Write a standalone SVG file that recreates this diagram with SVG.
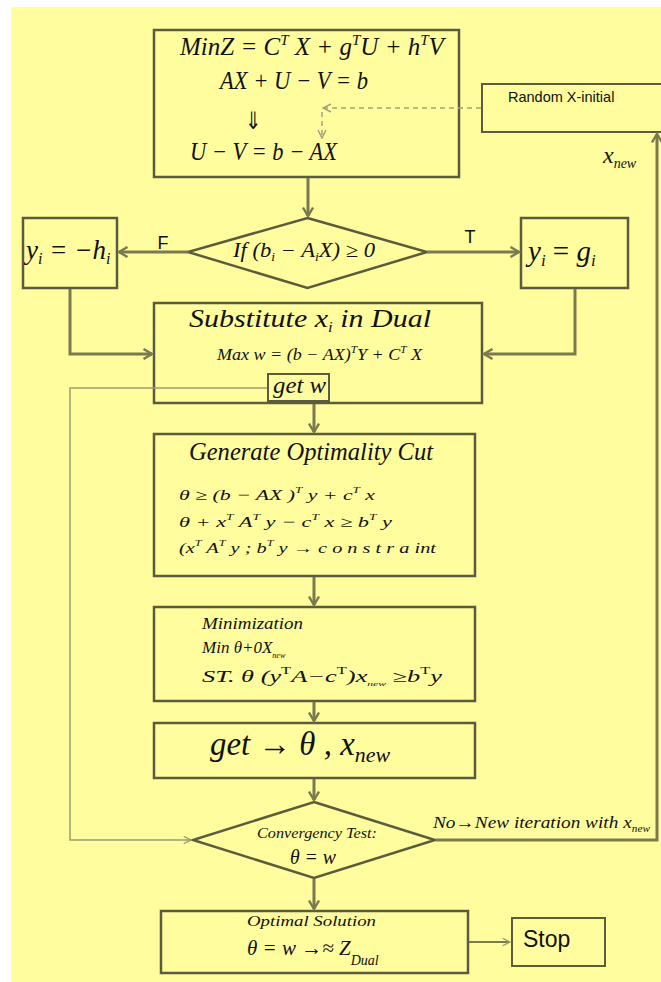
<svg xmlns="http://www.w3.org/2000/svg" width="661" height="982" viewBox="0 0 661 982">
<defs>
<style>
.box{fill:#fffd9e;stroke:#5b5b3d;stroke-width:2.5}
.con{fill:none;stroke:#7a7a50;stroke-width:3}
.thin{fill:none;stroke:#9c9c74;stroke-width:1.5}
.dash{fill:none;stroke:#a3a17e;stroke-width:1.5;stroke-dasharray:5,4}
.m{font-family:"Liberation Serif","Times New Roman",serif;font-style:italic;fill:#111}
.s{font-family:"Liberation Sans",Arial,sans-serif;fill:#111}
</style>
<marker id="ah" viewBox="0 0 12 12" refX="10" refY="6" markerWidth="12" markerHeight="12" markerUnits="userSpaceOnUse" orient="auto"><path d="M1.5,1 L10,6 L1.5,11" fill="none" stroke="#7a7a50" stroke-width="2.4"/></marker>
<marker id="ahs" viewBox="0 0 10 10" refX="9" refY="5" markerWidth="9" markerHeight="9" markerUnits="userSpaceOnUse" orient="auto"><path d="M1,1 L9,5 L1,9" fill="none" stroke="#9c9c74" stroke-width="1.5"/></marker>
<marker id="ahd" viewBox="0 0 10 10" refX="9" refY="5" markerWidth="10" markerHeight="10" markerUnits="userSpaceOnUse" orient="auto"><path d="M1,1 L9,5 L1,9" fill="none" stroke="#a3a17e" stroke-width="1.5"/></marker>
</defs>
<rect x="0" y="0" width="661" height="982" fill="#ffffff"/>
<rect x="11" y="7" width="650" height="975" fill="#fffd9e"/>

<g id="top-box">
<rect class="box" x="154" y="30" width="305" height="147"/>
<text class="m" x="180" y="55" font-size="25">MinZ = C<tspan font-size="15" dy="-10">T</tspan><tspan dy="10"> X + g</tspan><tspan font-size="15" dy="-10">T</tspan><tspan dy="10">U + h</tspan><tspan font-size="15" dy="-10">T</tspan><tspan dy="10">V</tspan></text>
<text class="m" x="220" y="89" font-size="25" textLength="148" lengthAdjust="spacingAndGlyphs">AX + U − V = b</text>
<text x="253" y="129" font-size="24" text-anchor="middle" font-family="DejaVu Sans, sans-serif" fill="#111" transform="translate(253,0) scale(0.8,1) translate(-253,0)">⇓</text>
<text class="m" x="190" y="160" font-size="25" textLength="147" lengthAdjust="spacingAndGlyphs">U − V = b − AX</text>
</g>

<g id="random-x">
<rect class="box" x="482" y="84" width="185" height="48" style="stroke-width:2"/>
<text class="s" x="508" y="102" font-size="14.5">Random X-initial</text>
</g>

<g id="decision-if">
<polygon class="box" points="307.5,218 427,252 307.5,288 188,252"/>
<text class="m" x="233" y="257" font-size="20" textLength="142" lengthAdjust="spacingAndGlyphs">If (b<tspan font-size="12" dy="4">i</tspan><tspan dy="-4"> − A</tspan><tspan font-size="12" dy="4">i</tspan><tspan dy="-4">X) ≥ 0</tspan></text>
</g>

<g id="y-neg-h">
<rect class="box" x="23" y="218" width="94" height="70"/>
<text class="m" x="26" y="259" font-size="27">y<tspan font-size="16" dy="5">i</tspan><tspan dy="-5"> = −h</tspan><tspan font-size="16" dy="5">i</tspan></text>
</g>

<g id="y-g">
<rect class="box" x="521" y="218" width="107" height="70"/>
<text class="m" x="528" y="261" font-size="29">y<tspan font-size="17" dy="5">i</tspan><tspan dy="-5" style="font-style:normal"> = </tspan><tspan>g</tspan><tspan font-size="17" dy="5">i</tspan></text>
</g>

<g id="substitute">
<rect class="box" x="154" y="303" width="328" height="100"/>
<text class="m" x="189" y="327" font-size="25" textLength="242" lengthAdjust="spacingAndGlyphs">Substitute x<tspan font-size="14" dy="5">i</tspan><tspan dy="-5"> in  Dual</tspan></text>
<text class="m" x="217" y="360" font-size="16" textLength="205" lengthAdjust="spacingAndGlyphs">Max w = (b − AX)<tspan font-size="10" dy="-7">T</tspan><tspan dy="7">Y + C</tspan><tspan font-size="10" dy="-7">T</tspan><tspan dy="7"> X</tspan></text>
<rect class="box" x="268" y="374" width="61" height="27" style="stroke-width:2"/>
<text class="m" x="273" y="393" font-size="23" textLength="53" lengthAdjust="spacingAndGlyphs">get w</text>
</g>

<g id="optimality-cut">
<rect class="box" x="154" y="434" width="321" height="142"/>
<text class="m" x="189" y="460" font-size="25" textLength="244" lengthAdjust="spacingAndGlyphs">Generate Optimality Cut</text>
<text class="m" x="179" y="500" font-size="15" textLength="196" lengthAdjust="spacingAndGlyphs">θ  ≥  (b  −  AX )<tspan font-size="9" dy="-7">T</tspan><tspan dy="7">  y  +  c</tspan><tspan font-size="9" dy="-7">T</tspan><tspan dy="7"> x</tspan></text>
<text class="m" x="179" y="527" font-size="15" textLength="213" lengthAdjust="spacingAndGlyphs">θ  +  x<tspan font-size="9" dy="-7">T</tspan><tspan dy="7"> A</tspan><tspan font-size="9" dy="-7">T</tspan><tspan dy="7"> y  −  c</tspan><tspan font-size="9" dy="-7">T</tspan><tspan dy="7"> x  ≥   b</tspan><tspan font-size="9" dy="-7">T</tspan><tspan dy="7"> y</tspan></text>
<text class="m" x="179" y="553" font-size="15" textLength="257" lengthAdjust="spacingAndGlyphs">(x<tspan font-size="9" dy="-7">T</tspan><tspan dy="7"> A</tspan><tspan font-size="9" dy="-7">T</tspan><tspan dy="7"> y  ;  b</tspan><tspan font-size="9" dy="-7">T</tspan><tspan dy="7"> y    →    c o n s t r a  int</tspan></text>
</g>

<g id="minimization">
<rect class="box" x="154" y="607" width="321" height="94"/>
<text class="m" x="202" y="629" font-size="16" textLength="101" lengthAdjust="spacingAndGlyphs">Minimization</text>
<text class="m" x="202" y="653" font-size="17">Min  θ+0X<tspan font-size="8" dy="5">new</tspan></text>
<text class="m" x="202" y="682" font-size="16" textLength="240" lengthAdjust="spacingAndGlyphs">ST. θ (y<tspan font-size="10" dy="-8" style="font-style:normal">T</tspan><tspan dy="8">A−c</tspan><tspan font-size="10" dy="-8" style="font-style:normal">T</tspan><tspan dy="8">)x</tspan><tspan font-size="7" dy="4">new</tspan><tspan dy="-4">   ≥b</tspan><tspan font-size="10" dy="-8" style="font-style:normal">T</tspan><tspan dy="8">y</tspan></text>
</g>

<g id="get-theta">
<rect class="box" x="154" y="723" width="321" height="55"/>
<text class="m" x="210" y="755" font-size="33" textLength="180" lengthAdjust="spacingAndGlyphs">get → θ , x<tspan font-size="22" dy="7">new</tspan></text>
</g>

<g id="convergency">
<polygon class="box" points="314,802 435,840 314,878 193,840"/>
<text class="m" x="257" y="838" font-size="15" textLength="120" lengthAdjust="spacingAndGlyphs">Convergency Test:</text>
<text class="m" x="290" y="864" font-size="21" textLength="46" lengthAdjust="spacingAndGlyphs">θ = w</text>
</g>

<g id="optimal">
<rect class="box" x="161" y="911" width="307" height="62"/>
<text class="m" x="247" y="926" font-size="15" textLength="129" lengthAdjust="spacingAndGlyphs">Optimal Solution</text>
<text class="m" x="247" y="955" font-size="21">θ = w →≈ Z<tspan font-size="14" dy="10">Dual</tspan></text>
</g>

<g id="stop">
<rect class="box" x="512" y="918" width="93" height="48" style="stroke-width:2"/>
<text class="s" x="523" y="947" font-size="23">Stop</text>
</g>

<g id="connectors">
<path class="con" d="M308,178 V216" marker-end="url(#ah)"/>
<path class="con" d="M188,252 H119" marker-end="url(#ah)"/>
<path class="con" d="M427,252 H519" marker-end="url(#ah)"/>
<path class="con" d="M70,289 V354 H152" marker-end="url(#ah)"/>
<path class="con" d="M575,289 V354 H484" marker-end="url(#ah)"/>
<path class="con" d="M314,404 V432" marker-end="url(#ah)"/>
<path class="con" d="M314,577 V605" marker-end="url(#ah)"/>
<path class="con" d="M314,702 V721" marker-end="url(#ah)"/>
<path class="con" d="M314,779 V800" marker-end="url(#ah)"/>
<path class="con" d="M314,879 V909" marker-end="url(#ah)"/>
<path class="con" d="M436,840 H657 V134" marker-end="url(#ah)"/>
<path class="thin" d="M469,942 H510" marker-end="url(#ahs)" style="stroke:#7a7a50;stroke-width:2"/>
<path class="thin" d="M267,388 H70 V840 H191" marker-end="url(#ahs)"/>
<path class="dash" d="M481,108 H323" marker-end="url(#ahd)"/>
<path class="dash" d="M322,112 V138" marker-end="url(#ahd)"/>
<text class="s" x="163" y="249" font-size="18" text-anchor="middle">F</text>
<text class="s" x="470" y="243" font-size="18" text-anchor="middle">T</text>
<text class="m" x="603" y="163" font-size="24">x<tspan font-size="14" dy="5">new</tspan></text>
<text class="m" x="433" y="828" font-size="17" textLength="217" lengthAdjust="spacingAndGlyphs">No→New iteration  with   x<tspan font-size="10" dy="4">new</tspan></text>
</g>
</svg>
